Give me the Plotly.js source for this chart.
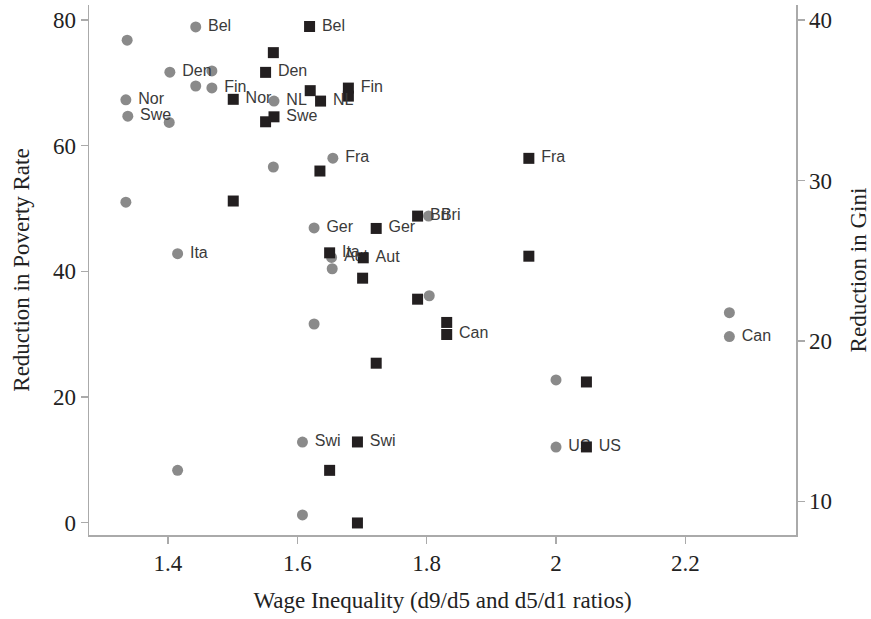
<!DOCTYPE html>
<html>
<head>
<meta charset="utf-8">
<script src="https://cdn.plot.ly/plotly-3.0.1.min.js"></script>
<style>
  html, body { margin: 0; padding: 0; background: #fff; }
  #chart { width: 871px; height: 619px; }
</style>
</head>
<body>
<div id="chart"></div>
<script>
// Reduction in poverty rate (grey circles, left axis)
const povX = [1.337, 1.443, 1.403, 1.468, 1.443, 1.468, 1.335, 1.338, 1.402, 1.564, 1.563, 1.655, 1.335, 1.415, 1.626, 1.653, 1.654, 1.803, 1.804, 1.626, 2.268, 2.268, 2.000, 2.000, 1.608, 1.415, 1.608];
const povY = [76.8, 78.9, 71.7, 71.9, 69.5, 69.2, 67.3, 64.7, 63.7, 67.1, 56.6, 58.0, 51.0, 42.8, 46.9, 42.2, 40.4, 48.8, 36.1, 31.6, 33.4, 29.6, 22.7, 12.0, 12.8, 8.3, 1.2];
const povLab = ["", "Bel", "Den", "", "", "Fin", "Nor", "Swe", "", "NL", "", "Fra", "", "Ita", "Ger", "Aut", "", "Bri", "", "", "", "Can", "", "US", "Swi", "", ""];

// Reduction in Gini (black squares, right axis)
const giniX = [1.619, 1.563, 1.551, 1.620, 1.636, 1.501, 1.679, 1.679, 1.551, 1.564, 1.635, 1.958, 1.501, 1.650, 1.702, 1.701, 1.786, 1.722, 1.958, 1.786, 1.831, 1.831, 2.047, 2.047, 1.722, 1.693, 1.650, 1.693];
const giniY = [39.6, 37.97, 36.74, 35.6, 34.95, 35.06, 35.76, 35.26, 33.66, 33.97, 30.59, 31.38, 28.72, 25.49, 25.18, 23.91, 27.78, 27.01, 25.28, 22.60, 21.15, 20.40, 17.44, 13.39, 18.61, 13.70, 11.93, 8.65];
const giniLab = ["Bel", "", "Den", "", "NL", "Nor", "Fin", "", "", "Swe", "", "Fra", "", "Ita", "Aut", "", "Bri", "Ger", "", "", "", "Can", "", "US", "", "Swi", "", ""];

const xTicks = [1.4, 1.6, 1.8, 2, 2.2];
const xTickText = ["1.4", "1.6", "1.8", "2", "2.2"];
const yTicks = [0, 20, 40, 60, 80];
const y2Ticks = [10, 20, 30, 40];

const lbl = arr => arr.map(s => s ? '\u00a0' + s : '');

const labelFont = { family: 'Liberation Sans, Arial, sans-serif', size: 16, color: '#3a3a3a' };
const serif = 'Liberation Serif, Times New Roman, serif';

const traces = [
  {
    x: giniX, y: giniY, text: lbl(giniLab), yaxis: 'y2',
    type: 'scatter', mode: 'markers+text', textposition: 'middle right',
    marker: { symbol: 'square', size: 11, color: '#231f20' },
    textfont: labelFont, hoverinfo: 'x+y', showlegend: false
  },
  {
    x: povX, y: povY, text: lbl(povLab), yaxis: 'y',
    type: 'scatter', mode: 'markers+text', textposition: 'middle right',
    marker: { symbol: 'circle', size: 11, color: '#8a8a8a' },
    textfont: labelFont, hoverinfo: 'x+y', showlegend: false
  }
];

const axisCommon = {
  showgrid: false, zeroline: false, showline: true,
  linecolor: '#aaaaaa', linewidth: 1.5,
  ticks: 'outside', ticklen: 7, tickwidth: 1.5, tickcolor: '#aaaaaa',
  tickfont: { family: serif, size: 23, color: '#222' }
};
const titleFont = { family: serif, size: 23, color: '#222' };

const layout = {
  width: 871, height: 619,
  paper_bgcolor: '#fff', plot_bgcolor: '#fff',
  margin: { l: 89, r: 75, t: 5, b: 84 },
  showlegend: false,
  xaxis: Object.assign({}, axisCommon, {
    range: [1.278, 2.371], tickvals: xTicks, ticktext: xTickText,
    title: { text: 'Wage Inequality (d9/d5 and d5/d1 ratios)', font: titleFont, standoff: 17 }
  }),
  yaxis: Object.assign({}, axisCommon, {
    range: [-2, 82.4], tickvals: yTicks,
    title: { text: 'Reduction in Poverty Rate', font: titleFont, standoff: 17 }
  }),
  yaxis2: Object.assign({}, axisCommon, {
    range: [7.9, 40.94], tickvals: y2Ticks, overlaying: 'y', side: 'right',
    title: { text: 'Reduction in Gini', font: titleFont, standoff: 24 }
  })
};

Plotly.newPlot('chart', traces, layout, { displayModeBar: false, staticPlot: true });
</script>
</body>
</html>
